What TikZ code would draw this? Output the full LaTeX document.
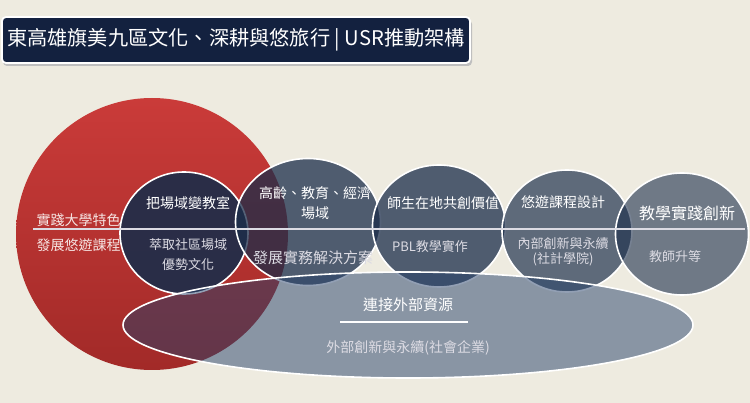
\documentclass[tikz,border=0pt]{standalone}
\usepackage{fontspec}
\newfontfamily\cjk{Noto Sans CJK TC}
\usetikzlibrary{shapes.geometric}
\definecolor{bgbeige}{HTML}{EEEBE0}
\definecolor{titlenavy}{HTML}{13213F}
\definecolor{redtop}{HTML}{CA3B39}
\definecolor{redbot}{HTML}{A22A28}
\definecolor{ringnavy}{HTML}{1B2D4A}
\definecolor{ellnavy}{HTML}{26416A}
\definecolor{softwhite}{HTML}{DCDBE3}
\definecolor{pinkwhite}{HTML}{F6E4E2}

\begin{document}
\begin{tikzpicture}[x=1pt,y=-1pt,
	ring/.style={ellipse,draw=white,line width=1.6pt,fill=ringnavy,inner sep=0pt},
	head/.style={text=white,font=\cjk\fontsize{14}{20}\selectfont,align=center},
	sub/.style={text=softwhite,font=\cjk\fontsize{13}{20}\selectfont,align=center},
	redtxt/.style={text=pinkwhite,font=\cjk\fontsize{14}{18}\selectfont,anchor=west}]
	\fill[bgbeige] (0,0) rectangle (750,403);
	\useasboundingbox (0,0) rectangle (750,403);
	\fill[black!25,rounded corners=4pt] (3,20) rectangle (472,66);
	\node[draw=white,line width=1.8pt,fill=titlenavy,rounded corners=4pt,
		minimum width=468,minimum height=46,inner sep=0pt] (titlebox) at (236,40) {};
	\node[text=white,font=\cjk\fontsize{20.2}{24}\selectfont] (title) at (titlebox)
		{東高雄旗美九區文化、深耕與悠旅行 | USR推動架構};
	\node[circle,inner sep=0pt,minimum size=272,top color=redtop,bottom color=redbot] (usc) at (152,234) {};
	\node[ring,minimum width=128,minimum height=122,fill opacity=0.9] (c1) at (184,233) {};
	\node[ring,minimum width=145,minimum height=127,fill opacity=0.75] (c2) at (308,222) {};
	\node[ring,minimum width=133,minimum height=122,fill opacity=0.75] (c3) at (439,226) {};
	\node[ring,minimum width=130,minimum height=122,fill opacity=0.68] (c4) at (567,231) {};
	\node[ring,minimum width=133,minimum height=122,fill opacity=0.6] (c5) at (682,234) {};
	\node[ellipse,draw=white,line width=1.6pt,fill=ellnavy,fill opacity=0.5,inner sep=0pt,
		minimum width=570,minimum height=106] (ext) at (408,325) {};
	\coordinate (divl) at (33,229);
	\coordinate (divr) at (745,229);
	\draw[softwhite,line width=1.5pt] (divl) -- (divr);
	\node[redtxt] (usc1) at (33,220) {實踐大學特色};
	\node[redtxt] (usc2) at (33,245) {發展悠遊課程};
	\node[head] (t1) at (188,203) {把場域變教室};
	\node[sub] (s1) at (188,255) {萃取社區場域\\優勢文化};
	\node[head] (t2) at (315,203) {高齡、教育、經濟\\場域};
	\node[sub,font=\cjk\fontsize{15}{18}\selectfont] (s2) at (313,258) {發展實務解決方案};
	\node[head] (t3) at (443,203) {師生在地共創價值};
	\node[sub] (s3) at (430,247) {PBL教學實作};
	\node[head] (t4) at (563,202) {悠遊課程設計};
	\node[sub,font=\cjk\fontsize{13}{15}\selectfont] (s4) at (563,252) {內部創新與永續\\(社計學院)};
	\node[head,font=\cjk\fontsize{16}{20}\selectfont] (t5) at (687,213) {教學實踐創新};
	\node[sub] (s5) at (675,257) {教師升等};
	\node[head,font=\cjk\fontsize{15}{20}\selectfont] (e1) at (408,305) {連接外部資源};
	\coordinate (extl) at (340,322);
	\coordinate (extr) at (468,322);
	\draw[white,line width=1.4pt] (extl) -- (extr);
	\node[sub,font=\cjk\fontsize{14}{18}\selectfont] (e2) at (408,348) {外部創新與永續(社會企業)};
\end{tikzpicture}
\end{document}
